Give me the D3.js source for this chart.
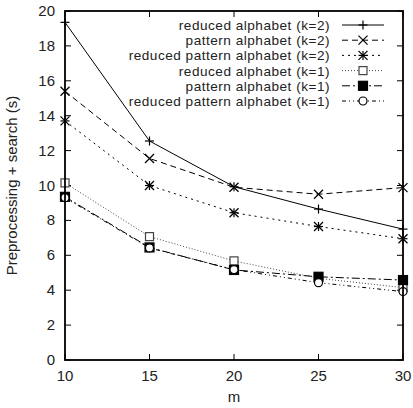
<!DOCTYPE html>
<html>
<head>
<meta charset="utf-8">
<script src="https://cdn.jsdelivr.net/npm/d3@7"></script>
<style>
  body { margin:0; background:#fff; }
  text { font-family: "Liberation Sans", Arial, sans-serif; fill:#222; }
</style>
</head>
<body>
<div class="canvas"></div>
<script>
// data
const mValues = [10, 15, 20, 25, 30];
const reducedK2 = [19.35, 12.55, 9.93, 8.65, 7.5];
const patternK2 = [15.4, 11.55, 9.9, 9.5, 9.88];
const reducedPatternK2 = [13.7, 10.0, 8.44, 7.65, 6.95];
const reducedK1 = [10.15, 7.07, 5.68, 4.68, 4.15];
const patternK1 = [9.35, 6.45, 5.16, 4.77, 4.58];
const reducedPatternK1 = [9.3, 6.42, 5.18, 4.43, 3.92];
const seriesNames = [
  'reduced alphabet (k=2)', 'pattern alphabet (k=2)', 'reduced pattern alphabet (k=2)',
  'reduced alphabet (k=1)', 'pattern alphabet (k=1)', 'reduced pattern alphabet (k=1)'
];
const xTicks = [10, 15, 20, 25, 30];
const yTicks = [0, 2, 4, 6, 8, 10, 12, 14, 16, 18, 20];

const seriesValues = [reducedK2, patternK2, reducedPatternK2, reducedK1, patternK1, reducedPatternK1];
// line style + marker for each series (gnuplot look)
const styles = [
  { dash: null, marker: 'plus', color: '#000' },
  { dash: '6,4', marker: 'cross', color: '#000' },
  { dash: '2,4', marker: 'star', color: '#000' },
  { dash: '1,2', marker: 'box', color: '#444' },
  { dash: '8,3,2,3', marker: 'fbox', color: '#000' },
  { dash: '4,3,1,3,1,3', marker: 'circle', color: '#000' }
];

const fontSize = 15;
const legendFont = 13.6; // rows are tight, keep boxes from touching
const margin = { top:11, right:10, bottom:48, left:65 };
const width = 413, height = 408;
const graphWidth = width - margin.left - margin.right;
const graphHeight = height - margin.top - margin.bottom;

const svg = d3.select('.canvas').append('svg')
  .attr('width', width)
  .attr('height', height);

const graph = svg.append('g')
  .attr('transform', `translate(${margin.left}, ${margin.top})`);

const x = d3.scaleLinear().domain([10, 30]).range([0, graphWidth]);
const y = d3.scaleLinear().domain([0, 20]).range([graphHeight, 0]);

// ticks on all four sides, pointing inward
const tickLen = 6;
const ticks = graph.append('g').attr('stroke', '#000').attr('stroke-width', 1);
yTicks.forEach(t => {
  ticks.append('line').attr('x1', 0).attr('x2', tickLen).attr('y1', y(t)).attr('y2', y(t));
  ticks.append('line').attr('x1', graphWidth).attr('x2', graphWidth - tickLen).attr('y1', y(t)).attr('y2', y(t));
});
xTicks.forEach(t => {
  ticks.append('line').attr('x1', x(t)).attr('x2', x(t)).attr('y1', graphHeight).attr('y2', graphHeight - tickLen);
  ticks.append('line').attr('x1', x(t)).attr('x2', x(t)).attr('y1', 0).attr('y2', tickLen);
});

// tick labels
graph.selectAll('.ylab').data(yTicks).enter().append('text')
  .attr('x', -10).attr('y', d => y(d) + 5)
  .attr('text-anchor', 'end').attr('font-size', fontSize)
  .text(d => d);
graph.selectAll('.xlab').data(xTicks).enter().append('text')
  .attr('x', d => x(d)).attr('y', graphHeight + 21)
  .attr('text-anchor', 'middle').attr('font-size', fontSize)
  .text(d => d);

// axis titles
svg.append('text')
  .attr('x', margin.left + graphWidth / 2).attr('y', 402)
  .attr('text-anchor', 'middle').attr('font-size', fontSize)
  .text('m');
svg.append('text')
  .attr('transform', `translate(17, ${margin.top + graphHeight / 2}) rotate(-90)`)
  .attr('text-anchor', 'middle').attr('font-size', fontSize)
  .text('Preprocessing + search (s)');

const line = d3.line()
  .x((d, i) => x(mValues[i]))
  .y(d => y(d));

function drawMarker(g, kind, cx, cy, color) {
  const s = 4.5;
  const m = g.append('g').attr('stroke', color).attr('stroke-width', 1.2).attr('fill', 'none');
  if (kind === 'plus' || kind === 'star') {
    m.append('line').attr('x1', cx - s).attr('x2', cx + s).attr('y1', cy).attr('y2', cy);
    m.append('line').attr('x1', cx).attr('x2', cx).attr('y1', cy - s).attr('y2', cy + s);
  }
  if (kind === 'cross' || kind === 'star') {
    m.append('line').attr('x1', cx - s).attr('x2', cx + s).attr('y1', cy - s).attr('y2', cy + s);
    m.append('line').attr('x1', cx - s).attr('x2', cx + s).attr('y1', cy + s).attr('y2', cy - s);
  }
  if (kind === 'box') {
    m.append('rect').attr('x', cx - 4).attr('y', cy - 4).attr('width', 8).attr('height', 8).attr('fill', '#fff');
  }
  if (kind === 'fbox') {
    m.append('rect').attr('x', cx - 4.5).attr('y', cy - 4.5).attr('width', 9).attr('height', 9).attr('fill', '#000').attr('stroke', '#000');
  }
  if (kind === 'circle') {
    m.append('circle').attr('cx', cx).attr('cy', cy).attr('r', 4).attr('fill', '#fff');
  }
}

// series lines + markers
seriesValues.forEach((vals, si) => {
  const st = styles[si];
  graph.append('path')
    .datum(vals)
    .attr('fill', 'none')
    .attr('stroke', st.color)
    .attr('stroke-width', 1)
    .attr('stroke-dasharray', st.dash)
    .attr('d', line);
  vals.forEach((v, i) => drawMarker(graph, st.marker, x(mValues[i]), y(v), st.color));
});

// legend, top right
const legendX = 265, legendY = 14, rowH = 15.2;
seriesNames.forEach((name, si) => {
  const st = styles[si];
  const ly = legendY + si * rowH;
  graph.append('text')
    .attr('x', legendX).attr('y', ly + 5)
    .attr('text-anchor', 'end').attr('font-size', legendFont)
    .attr('letter-spacing', 0.5)
    .text(name);
  graph.append('line')
    .attr('x1', legendX + 12).attr('x2', legendX + 54)
    .attr('y1', ly).attr('y2', ly)
    .attr('stroke', st.color).attr('stroke-width', 1)
    .attr('stroke-dasharray', st.dash);
  drawMarker(graph, st.marker, legendX + 33, ly, st.color);
});

// frame
graph.append('rect')
  .attr('width', graphWidth).attr('height', graphHeight)
  .attr('fill', 'none').attr('stroke', '#000').attr('stroke-width', 1.8);
</script>
</body>
</html>
